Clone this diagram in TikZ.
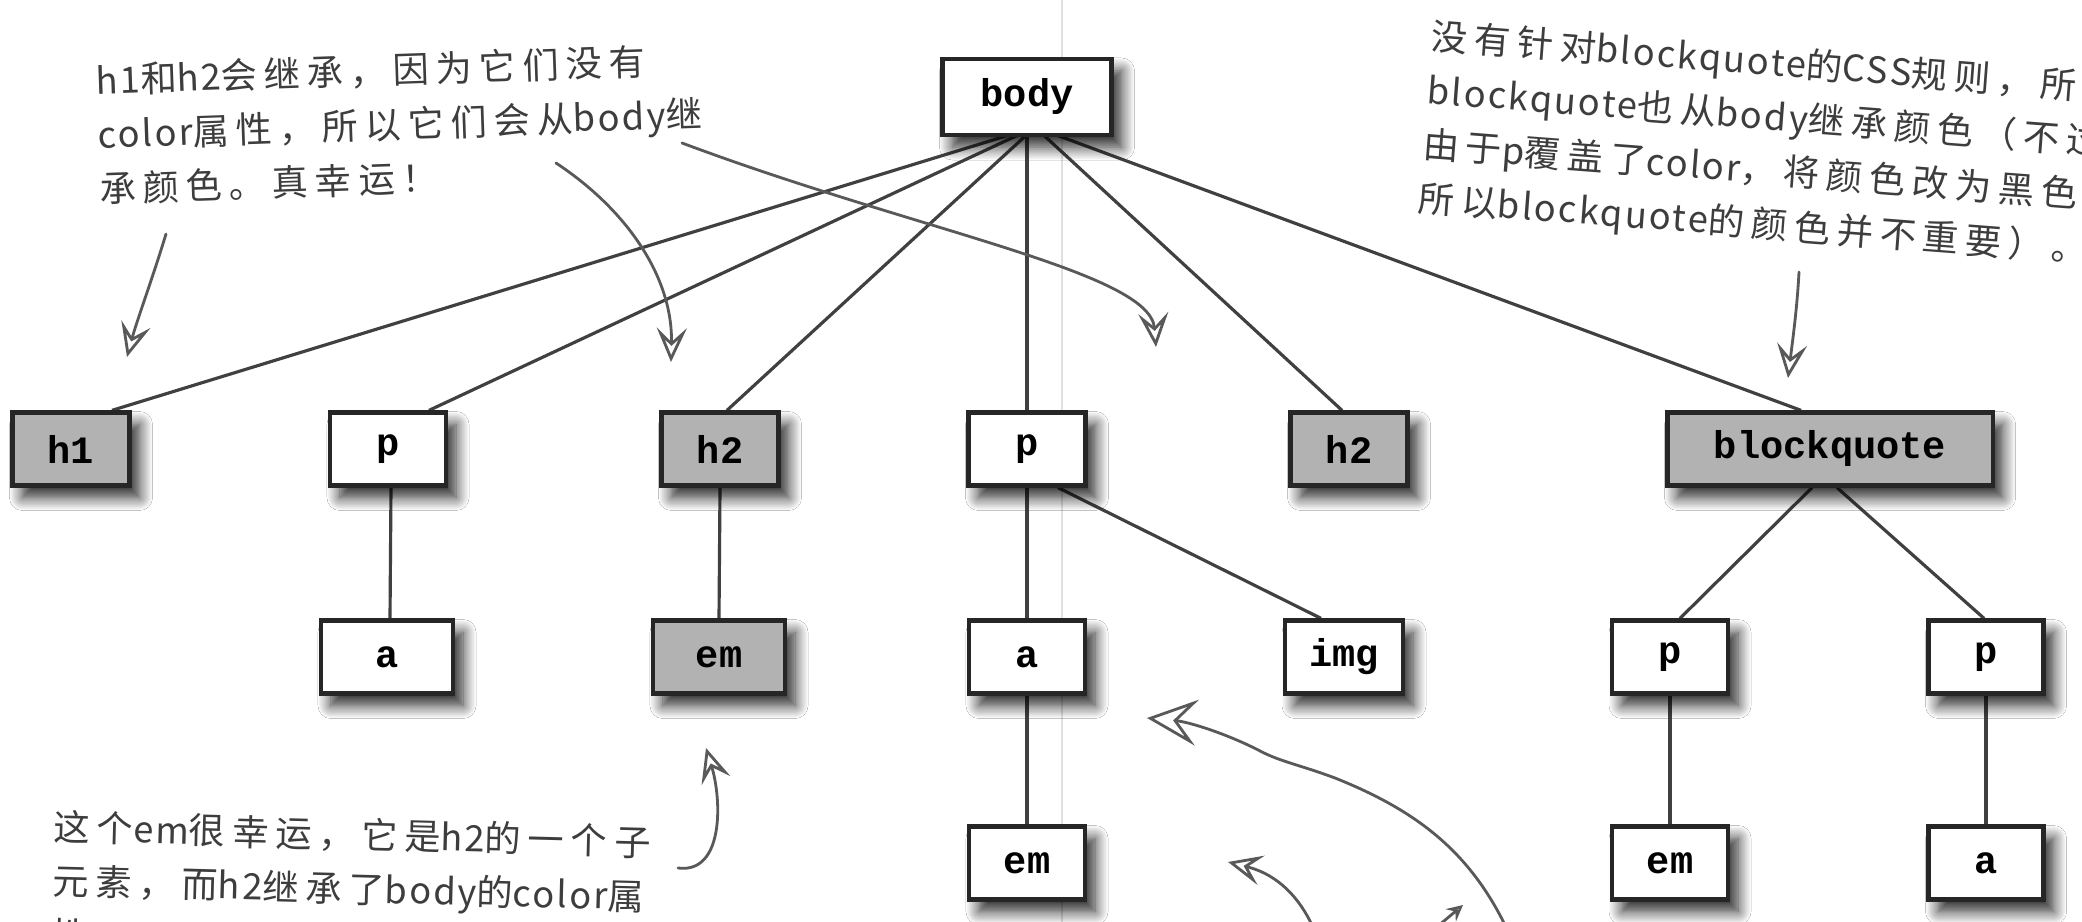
\documentclass[tikz,border=0pt]{standalone}
\usepackage{fontspec}
\usetikzlibrary{calc,arrows.meta,shadows.blur}
\newfontfamily\tagfont{Liberation Mono}
\newfontfamily\handcjk[LetterSpace=19]{Noto Sans CJK SC}
\newfontfamily\handlat[LetterSpace=6]{Noto Sans CJK SC}
\newcommand\hlat[1]{{\handlat #1}}
\pgfdeclarelayer{bg}
\pgfsetlayers{bg,main}
\begin{document}
\begin{tikzpicture}[x=0.01cm,y=-0.01cm,
  tag/.style={draw=black!85, line width=1.2pt, fill=white,
    minimum height=0.73cm, inner sep=0pt,
    font=\tagfont\bfseries\fontsize{11}{12}\selectfont,
    blur shadow={shadow xshift=0.1cm, shadow yshift=-0.12cm,
      shadow blur radius=0.13cm, shadow blur steps=12, shadow opacity=85}},
  shaded/.style={tag, fill=black!30},
  link/.style={draw=black!75, line width=0.9pt},
  note/.style={text=black!76, align=left, inner sep=0pt,
    font=\handcjk\fontsize{10.3}{15.4}\selectfont},
  notearrow/.style={draw=black!65, line width=0.8pt, line cap=round,
    -{Stealth[open, length=3.4mm, width=3mm, inset=1.4mm]}},
  bigarrow/.style={notearrow,
    -{Stealth[open, length=5mm, width=4.6mm, inset=2mm]}}]

\useasboundingbox (0,0) rectangle (2082,922);
\clip (0,0) rectangle (2082,922);

% element tree
\node[tag, minimum width=1.69cm, minimum height=0.76cm] (body) at (1027,97) {body};

\node[shaded, minimum width=1.17cm] (h1)  at (71,449)   {h1};
\node[tag,    minimum width=1.16cm] (p1)  at (388,449)  {p};
\node[shaded, minimum width=1.17cm] (h2a) at (720,449)  {h2};
\node[tag,    minimum width=1.17cm] (p2)  at (1027,449) {p};
\node[shaded, minimum width=1.17cm] (h2b) at (1349,449) {h2};
\node[shaded, minimum width=3.25cm] (bq)  at (1830,449) {blockquote};

\node[tag,    minimum width=1.32cm] (a1)  at (387,657)  {a};
\node[shaded, minimum width=1.32cm] (em2) at (719,657)  {em};
\node[tag,    minimum width=1.16cm] (a2)  at (1027,657) {a};
\node[tag,    minimum width=1.18cm] (img) at (1344,657) {img};
\node[tag,    minimum width=1.16cm] (p3)  at (1670,657) {p};
\node[tag,    minimum width=1.15cm] (p4)  at (1986,657) {p};

\node[tag,    minimum width=1.16cm] (em3) at (1027,863) {em};
\node[tag,    minimum width=1.16cm] (em4) at (1670,863) {em};
\node[tag,    minimum width=1.15cm] (a4)  at (1986,863) {a};

% tree edges, kept under the boxes
\begin{pgfonlayer}{bg}
  \fill[white] (0,0) rectangle (2082,922);
  \draw[black!12, line width=0.4pt] (1062,0) -- (1062,922);
  \coordinate (hub) at ($(body.south)+(8,-10)$);
  \draw[link] (hub) -- ($(h1.north)+(41,0)$);
  \draw[link] (hub) -- ($(p1.north)+(41,0)$);
  \draw[link] (hub) -- ($(h2a.north)+(7,0)$);
  \draw[link] (body.south) -- (p2.north);
  \draw[link] (hub) -- ($(h2b.north)+(-7,0)$);
  \draw[link] (hub) -- ($(bq.north)+(-29,0)$);
  \draw[link] ($(p1.south)+(3,0)$) -- ($(a1.north)+(3,0)$);
  \draw[link] (h2a.south) -- (em2.north);
  \draw[link] (p2.south) -- (a2.north);
  \draw[link] (a2.south) -- (em3.north);
  \draw[link] ($(p2.south)+(31,0)$) -- ($(img.north)+(-23,0)$);
  \draw[link] ($(bq.south)+(-18,0)$) -- ($(p3.north)+(10,0)$);
  \draw[link] ($(bq.south)+(7,0)$) -- ($(p4.north)+(-2,0)$);
  \draw[link] (p3.south) -- (em4.north);
  \draw[link] (p4.south) -- (a4.north);
\end{pgfonlayer}

% handwritten remarks
\node[note, anchor=north west, rotate=2] (n1) at (95,63)
  {\hlat{h1}和\hlat{h2}会继承，因为它们没有\\
   \hlat{color}属性，所以它们会从\hlat{body}继\\
   承颜色。真幸运！};
\node[note, anchor=north west, rotate=-4.4] (n2) at (1432,18)
  {没有针对\hlat{blockquote}的\hlat{CSS}规则，所\\
   \hlat{blockquote}也从\hlat{body}继承颜色（不过\\
   由于\hlat{p}覆盖了\hlat{color}，将颜色改为黑色，\\
   所以\hlat{blockquote}的颜色并不重要）。};
\node[note, anchor=north west, rotate=-1.5] (n3) at (54,809)
  {这个\hlat{em}很幸运，它是\hlat{h2}的一个子\\
   元素，而\hlat{h2}继承了\hlat{body}的\hlat{color}属\\
   性，};

% remark arrows
\coordinate (s1) at (166,234);  \coordinate (t1) at (127,357);
\coordinate (s2) at (556,163);  \coordinate (t2) at (671,362);
\coordinate (s3) at (682,143);  \coordinate (t3) at (1156,347);
\coordinate (s4) at (1799,272); \coordinate (t4) at (1788,378);
\coordinate (s5) at (678,868);  \coordinate (t5) at (706,748);
\coordinate (s6) at (1505,925); \coordinate (t6) at (1147,718);
\coordinate (s7) at (1312,925); \coordinate (t7) at (1228,862);
\coordinate (s8) at (1438,926); \coordinate (t8) at (1463,905);

\draw[notearrow] (s1) .. controls (152,280) and (137,320) .. (t1);
\draw[notearrow] (s2) .. controls (630,212) and (673,280) .. (t2);
\draw[notearrow] (s3) .. controls (920,232) and (1150,272) .. (t3);
\draw[notearrow] (s4) .. controls (1797,310) and (1792,345) .. (t4);
\draw[notearrow] (s5) .. controls (724,874) and (722,800) .. (t5);
\draw[bigarrow] (s6) .. controls (1468,850) and (1415,810) .. (1335,778)
  .. controls (1300,765) and (1282,762) .. (1262,752)
  .. controls (1230,735) and (1190,722) .. (t6);
\draw[notearrow] (s7) .. controls (1300,900) and (1280,875) .. (t7);
\draw[draw=black!65, line width=0.8pt, line cap=round,
  -{Stealth[open, length=1.6mm, width=1.6mm, inset=0.6mm]}] (s8) -- (t8);
\end{tikzpicture}
\end{document}
